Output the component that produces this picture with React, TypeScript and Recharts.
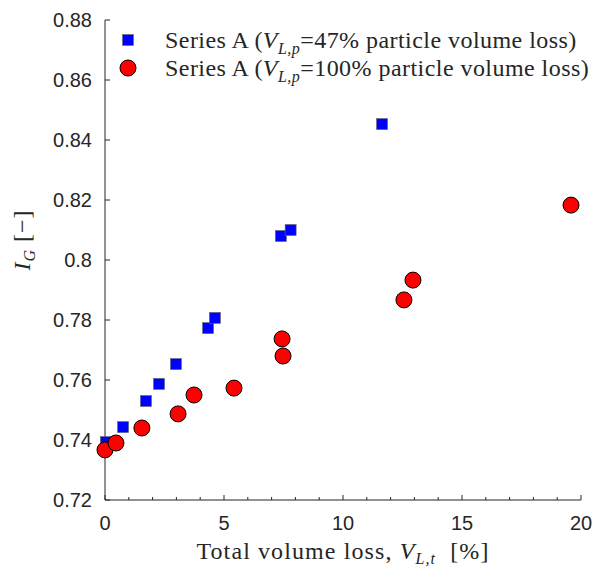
import React from "react"
import { ScatterChart, Scatter, XAxis, YAxis } from "recharts"

// Series A, V_L,p = 47% (blue squares)
const blueX = [0.04, 0.76, 1.72, 2.27, 2.98, 4.33, 4.62, 7.39, 7.8, 11.64]
const blueY = [0.7393, 0.7443, 0.753, 0.7587, 0.7653, 0.7773, 0.7807, 0.808, 0.81, 0.8453]

// Series A, V_L,p = 100% (red circles)
const redX = [0.0, 0.46, 1.55, 3.07, 3.74, 5.42, 7.44, 7.48, 12.56, 12.94, 19.58]
const redY = [0.7367, 0.739, 0.744, 0.7487, 0.755, 0.7573, 0.7737, 0.768, 0.7867, 0.7933, 0.8183]

const xTicks = [0, 1, 2, 3, 4, 5, 6, 7, 8, 9, 10, 11, 12, 13, 14, 15, 16, 17, 18, 19, 20]
const yTicks = [0.72, 0.74, 0.76, 0.78, 0.8, 0.82, 0.84, 0.86, 0.88]

const blueData = blueX.map((x, i) => ({ x, y: blueY[i] }))
const redData = redX.map((x, i) => ({ x, y: redY[i] }))

const axisColor = "#262626"
const tickFont = "'Liberation Sans', Arial, sans-serif"
const serifFont = "'Liberation Serif', 'Times New Roman', serif"

const Square = (props: any) => {
  const { cx, cy } = props
  return <rect x={cx - 5.5} y={cy - 5.5} width={11} height={11} fill="#0000ff" stroke="#666" strokeWidth={0.6} />
}

const Dot = (props: any) => {
  const { cx, cy } = props
  return <circle cx={cx} cy={cy} r={8} fill="#ff0000" stroke="#000" strokeWidth={1} />
}

const XTick = (props: any) => {
  const { x, y, payload } = props
  const major = payload.value % 5 === 0
  return (
    <g>
      <line x1={x} x2={x} y1={y} y2={y - (major ? 5 : 3)} stroke={axisColor} strokeWidth={1} />
      {major && (
        <text x={x} y={y + 30} textAnchor="middle" fontFamily={tickFont} fontSize={20} fill={axisColor}>
          {payload.value}
        </text>
      )}
    </g>
  )
}

const YTick = (props: any) => {
  const { x, y, payload } = props
  return (
    <g>
      <line x1={x} x2={x + 5} y1={y} y2={y} stroke={axisColor} strokeWidth={1} />
      <text x={x - 13} y={y + 7} textAnchor="end" fontFamily={tickFont} fontSize={20} fill={axisColor}>
        {String(Number(payload.value.toFixed(2)))}
      </text>
    </g>
  )
}

const XLabel = (props: any) => {
  const { viewBox } = props
  const cx = viewBox.x + viewBox.width / 2
  return (
    <text x={cx} y={viewBox.y + 59} textAnchor="middle" fontFamily={serifFont} fontSize={24} letterSpacing={1.1} fill={axisColor}>
      Total volume loss, <tspan fontStyle="italic">V</tspan>
      <tspan fontStyle="italic" fontSize={16} dy={5}>L,t</tspan>
      <tspan dy={-5}>{"\u00a0\u00a0[%]"}</tspan>
    </text>
  )
}

const YLabel = () => {
  const cx = 14
  const cy = 232
  return (
    <text x={cx} y={cy} textAnchor="middle" fontFamily={serifFont} fontSize={24} letterSpacing={1} fill={axisColor} transform={`rotate(-90, ${cx}, ${cy})`} dy={8}>
      <tspan fontStyle="italic">I</tspan>
      <tspan fontStyle="italic" fontSize={16} dy={5}>G</tspan>
      <tspan dy={-5}>{"\u00a0[\u2212]"}</tspan>
    </text>
  )
}

const legendRows = [
  { marker: "square", pct: "47%" },
  { marker: "circle", pct: "100%" },
]

const LegendBox = () => (
  <div style={{ position: "absolute", left: 108, top: 18, fontFamily: serifFont, fontSize: 24, letterSpacing: 0.45, color: axisColor }}>
    {legendRows.map((r) => (
      <div key={r.pct} style={{ display: "flex", alignItems: "center", height: 28 }}>
        <svg width={24} height={24} style={{ marginRight: 25 }}>
          {r.marker === "square" ? (
            <rect x={6.5} y={6.5} width={11} height={11} fill="#0000ff" stroke="#666" strokeWidth={0.6} />
          ) : (
            <circle cx={12} cy={12} r={8} fill="#ff0000" stroke="#000" strokeWidth={1} />
          )}
        </svg>
        <span style={{ whiteSpace: "nowrap" }}>
          Series A (<i>V</i>
          <sub style={{ fontSize: 16, fontStyle: "italic", lineHeight: 0 }}>L,p</sub>={r.pct} particle volume loss)
        </span>
      </div>
    ))}
  </div>
)

export default function App() {
  return (
    <div style={{ position: "relative", width: 601, height: 561, background: "#fff" }}>
      <ScatterChart width={601} height={561} margin={{ top: 12, right: 28, bottom: 0, left: 0 }}>
        <XAxis
          type="number"
          dataKey="x"
          domain={[0, 20]}
          ticks={xTicks}
          interval={0}
          height={69}
          tickSize={0}
          tickMargin={0}
          tickLine={false}
          tick={<XTick />}
          stroke={axisColor}
          label={<XLabel />}
        />
        <YAxis
          type="number"
          dataKey="y"
          domain={[0.72, 0.88]}
          ticks={yTicks}
          interval={0}
          width={97}
          tickSize={0}
          tickMargin={0}
          tickLine={false}
          tick={<YTick />}
          stroke={axisColor}
        />
        <Scatter data={blueData} shape={<Square />} isAnimationActive={false} />
        <Scatter data={redData} shape={<Dot />} isAnimationActive={false} />
      </ScatterChart>
      <svg width={40} height={561} style={{ position: "absolute", left: 0, top: 0 }}>
        <YLabel />
      </svg>
      <LegendBox />
    </div>
  )
}
